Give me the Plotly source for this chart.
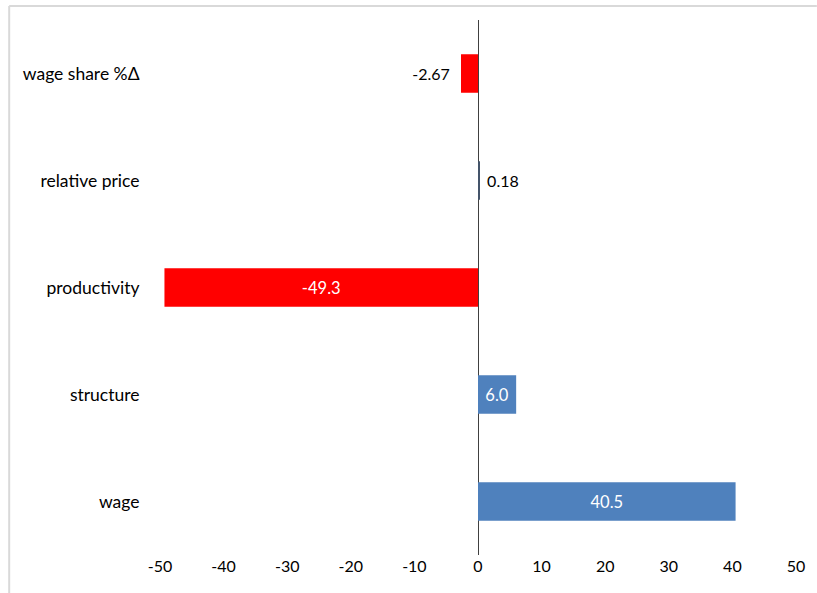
import plotly.graph_objects as go

categories = ["wage", "structure", "productivity", "relative price", "wage share %Δ"]
values = [40.5, 6.0, -49.3, 0.18, -2.67]
labels = ["40.5", "6.0", "-49.3", "0.18", "-2.67"]
colors = ["#4F81BD", "#4F81BD", "#FF0000", "#44546A", "#FF0000"]
positions = ["inside", "inside", "inside", "outside", "outside"]
x_ticks = [-50, -40, -30, -20, -10, 0, 10, 20, 30, 40, 50]
x_tick_text = ["-50", "-40", "-30", "-20", "-10", "0", "10", "20", "30", "40", "50"]

W, H = 817, 593
L, R, T, B = 160, 16, 20, 38

disp_labels = [(" " + t if p == "outside" and v > 0 else t + "  " if p == "outside" else t)
               for t, p, v in zip(labels, positions, values)]

fig = go.Figure(go.Bar(
    y=categories, x=values, orientation="h",
    marker=dict(color=colors, line=dict(width=0)),
    text=disp_labels, textposition=positions,
    insidetextanchor="middle",
    outsidetextfont=dict(color="black", size=16, family="Lato"),
    insidetextfont=dict(color="white", size=16.5, family="Lato"),
    cliponaxis=False, width=0.36,
))

pw = W - L - R
ph = H - T - B
fig.update_layout(
    width=W, height=H,
    margin=dict(l=L, r=R, t=T, b=B),
    paper_bgcolor="white", plot_bgcolor="white",
    showlegend=False,
    font=dict(family="Lato", size=16, color="black"),
    xaxis=dict(range=[-50, 50], tickvals=x_ticks, ticktext=x_tick_text, showgrid=False,
               zeroline=True, zerolinecolor="#404040", zerolinewidth=1,
               showline=False, ticks="", tickfont=dict(size=16), fixedrange=True),
    yaxis=dict(categoryorder="array", categoryarray=categories,
               range=[-0.5, 4.5], showgrid=False, zeroline=False, showline=False,
               ticks="outside", ticklen=16, tickcolor="rgba(0,0,0,0)",
               tickfont=dict(size=17.5)),
    shapes=[
        dict(type="line", xref="paper", yref="paper",
             x0=(8 - L) / pw, x1=(W + 5 - L) / pw,
             y0=1 + (T - 6) / ph, y1=1 + (T - 6) / ph,
             line=dict(color="#D9D9D9", width=2)),
        dict(type="line", xref="paper", yref="paper",
             x0=(8 - L) / pw, x1=(8 - L) / pw,
             y0=1 + (T - 6) / ph, y1=-(B + 5) / ph,
             line=dict(color="#D9D9D9", width=2)),
    ],
)

fig.write_html("out.html")
